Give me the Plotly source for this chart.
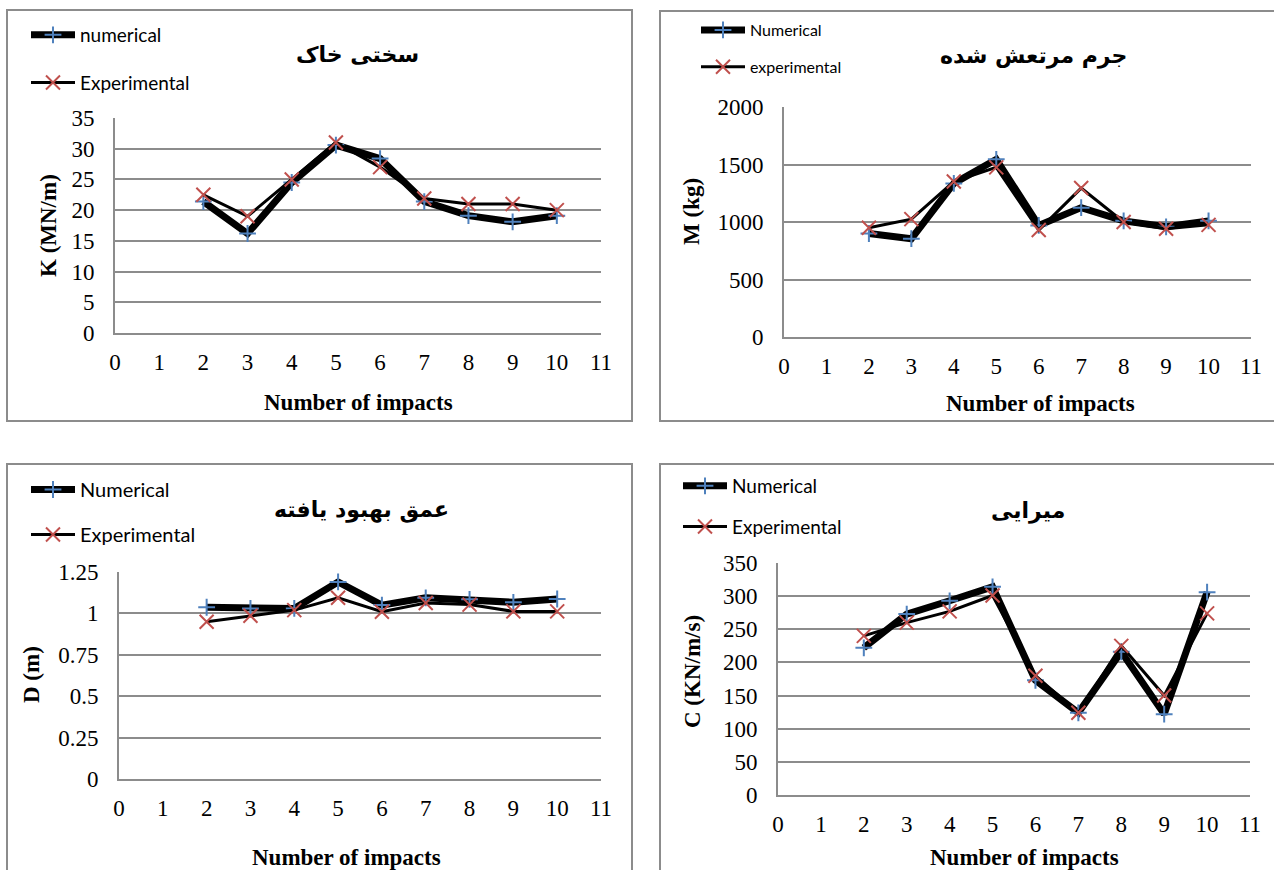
import plotly.graph_objects as go

W, H = 1274, 870

impacts = [2, 3, 4, 5, 6, 7, 8, 9, 10]
x_ticks = list(range(0, 12))

k_num = [21.4, 16.2, 24.5, 30.6, 28.4, 21.4, 19.1, 18.1, 19.1]
k_exp = [22.5, 19.0, 25.0, 31.0, 27.0, 21.9, 21.0, 21.0, 20.0]

m_num = [900, 855, 1335, 1545, 970, 1125, 1010, 958, 1010]
m_exp = [950, 1025, 1352, 1475, 930, 1295, 1000, 942, 975]

d_num = [1.037, 1.03, 1.03, 1.19, 1.05, 1.094, 1.085, 1.067, 1.087]
d_exp = [0.95, 0.986, 1.02, 1.094, 1.01, 1.063, 1.053, 1.012, 1.012]

c_num = [222, 273, 293, 314, 173, 124, 216, 122, 306]
c_exp = [240, 260, 277, 301, 180, 124, 225, 150, 274]

titles = ["سختی خاک", "جرم مرتعش شده", "عمق بهبود یافته", "میرایی"]
y_titles = ["K (MN/m)", "M (kg)", "D (m)", "C (KN/m/s)"]
x_title = "Number of impacts"
num_names = ["numerical", "Numerical", "Numerical", "Numerical"]
exp_names = ["Experimental", "experimental", "Experimental", "Experimental"]

BLUE = "#4f81bd"
RED = "#c0504d"
GRID = "#8c8c8c"


def px(x):
    return x / W


def py(y):
    return 1 - y / H


# panel geometry (pixels)
panels = [
    dict(x0=115, x1=601, y0=118, y1=333, yr=[0, 35], dt=5, data=(k_num, k_exp),
         tx=357, ty=54, ytx=49, yty=226, xtx=358, xty=402,
         lx=26, ly=16, lfs=19, gap=20, box=(7, 10, 632, 421)),
    dict(x0=784, x1=1251, y0=107, y1=337, yr=[0, 2000], dt=500, data=(m_num, m_exp),
         tx=1033, ty=56, ytx=692, yty=212, xtx=1040, xty=403,
         lx=696, ly=13, lfs=16, gap=13, box=(660, 11, 1290, 421)),
    dict(x0=119, x1=601, y0=572, y1=779, yr=[0, 1.25], dt=0.25, data=(d_num, d_exp),
         tx=362, ty=510, ytx=31, yty=675, xtx=346, xty=857,
         lx=26, ly=470, lfs=20, gap=16, box=(7, 464, 632, 890)),
    dict(x0=778, x1=1250, y0=563, y1=795, yr=[0, 350], dt=50, data=(c_num, c_exp),
         tx=1028, ty=511, ytx=692, yty=672, xtx=1024, xty=857,
         lx=678, ly=467, lfs=19, gap=13, box=(660, 464, 1290, 890)),
]

fig = go.Figure()
shapes = []
annotations = []
layout_axes = {}

for i, p in enumerate(panels):
    n = i + 1
    xa = "x" if n == 1 else f"x{n}"
    ya = "y" if n == 1 else f"y{n}"
    lg = "legend" if n == 1 else f"legend{n}"
    num, exp = p["data"]
    fig.add_trace(go.Scatter(
        x=impacts, y=num, xaxis=xa, yaxis=ya, name=num_names[i], legend=lg,
        legendgroup=f"n{n}", mode="lines+markers",
        line=dict(color="black", width=7),
        marker=dict(symbol="cross-thin", size=12, line=dict(color=BLUE, width=2)),
    ))
    fig.add_trace(go.Scatter(
        x=impacts, y=exp, xaxis=xa, yaxis=ya, name=exp_names[i], legend=lg,
        legendgroup=f"e{n}", mode="lines+markers",
        line=dict(color="black", width=3),
        marker=dict(symbol="x-thin", size=14, line=dict(color=RED, width=2)),
    ))
    xk = "xaxis" if n == 1 else f"xaxis{n}"
    yk = "yaxis" if n == 1 else f"yaxis{n}"
    layout_axes[xk] = dict(
        domain=[px(p["x0"]), px(p["x1"])], anchor=ya, range=[0, 11],
        tickmode="array", tickvals=x_ticks, showgrid=False, zeroline=False,
        showline=True, linecolor=GRID, linewidth=2, ticks="",
        tickfont=dict(family="Liberation Serif", size=23, color="black"),
        ticklabelstandoff=7, fixedrange=True, automargin=False,
    )
    layout_axes[yk] = dict(
        domain=[py(p["y1"]), py(p["y0"])], anchor=xa, range=p["yr"],
        dtick=p["dt"], tick0=0, showgrid=True, gridcolor=GRID, gridwidth=2,
        zeroline=False, showline=True, linecolor=GRID, linewidth=2, ticks="",
        tickfont=dict(family="Liberation Serif", size=23, color="black"),
        ticklabelstandoff=14, fixedrange=True, automargin=False,
    )
    layout_axes[lg] = dict(
        x=px(p["lx"]), y=py(p["ly"]), xanchor="left", yanchor="top",
        bgcolor="rgba(0,0,0,0)", tracegroupgap=p["gap"], itemwidth=44,
        font=dict(family="Lato", size=p["lfs"], color="black"),
    )
    bx0, by0, bx1, by1 = p["box"]
    shapes.append(dict(type="rect", xref="paper", yref="paper",
                       x0=px(bx0), x1=px(bx1), y0=py(by1), y1=py(by0),
                       line=dict(color=GRID, width=2), layer="below"))
    annotations.append(dict(text=f"<b>{titles[i]}</b>", x=px(p["tx"]), y=py(p["ty"]),
                            xref="paper", yref="paper", showarrow=False,
                            xanchor="center", yanchor="middle",
                            font=dict(family="DejaVu Sans", size=22, color="black")))
    annotations.append(dict(text=f"<b>{y_titles[i]}</b>", x=px(p["ytx"]), y=py(p["yty"]),
                            xref="paper", yref="paper", showarrow=False, textangle=-90,
                            xanchor="center", yanchor="middle",
                            font=dict(family="Liberation Serif", size=23, color="black")))
    annotations.append(dict(text=f"<b>{x_title}</b>", x=px(p["xtx"]), y=py(p["xty"]),
                            xref="paper", yref="paper", showarrow=False,
                            xanchor="center", yanchor="middle",
                            font=dict(family="Liberation Serif", size=23, color="black")))

fig.update_layout(
    width=W, height=H, margin=dict(l=0, r=0, t=0, b=0, autoexpand=False),
    paper_bgcolor="white", plot_bgcolor="white",
    shapes=shapes, annotations=annotations, showlegend=True,
    **layout_axes,
)

fig.write_html("out.html", post_script="document.body.style.margin='0';",
               config={"displayModeBar": False})
